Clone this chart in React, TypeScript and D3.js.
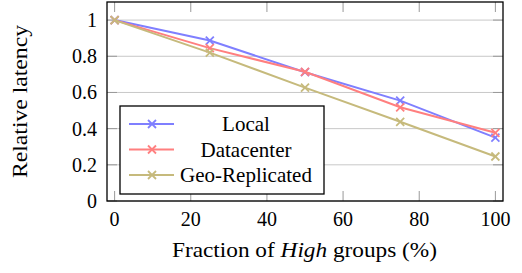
import React from 'react';
import * as d3 from 'd3';

const fractions = [0, 25, 50, 75, 100];
const localValues = [1, 0.887, 0.712, 0.555, 0.35];
const datacenterValues = [1, 0.845, 0.714, 0.518, 0.377];
const geoValues = [1, 0.82, 0.627, 0.438, 0.246];
const xTicks = [0, 20, 40, 60, 80, 100];
const yTicks = [0, 0.2, 0.4, 0.6, 0.8, 1];

const series = [
  { name: 'Local', values: localValues, color: '#7f7fff' },
  { name: 'Datacenter', values: datacenterValues, color: '#ff7f7f' },
  { name: 'Geo-Replicated', values: geoValues, color: '#c6ba7c' },
];

const width = 522;
const height = 273;
const margin = { top: 2, right: 19, bottom: 72, left: 107 };
const font = 'Liberation Serif, DejaVu Serif, serif';

const App: React.FC = () => {
  const x = d3.scaleLinear().domain([-2, 102]).range([margin.left, width - margin.right]);
  const y = d3.scaleLinear().domain([0, 1.1]).range([height - margin.bottom, margin.top]);
  const line = d3
    .line<number>()
    .x((_, i) => x(fractions[i]))
    .y((d) => y(d));

  const tick = 10;
  const left = x.range()[0];
  const right = x.range()[1];
  const top = y.range()[1];
  const bottom = y.range()[0];

  const cross = (cx: number, cy: number, color: string, key: string) => (
    <g key={key} stroke={color} strokeWidth={1.8}>
      <line x1={cx - 4} y1={cy - 4} x2={cx + 4} y2={cy + 4} />
      <line x1={cx - 4} y1={cy + 4} x2={cx + 4} y2={cy - 4} />
    </g>
  );

  const legend = { x: 120, y: 106, w: 204, h: 88 };

  return (
    <svg width={width} height={height} style={{ position: 'absolute', left: 0, top: 0 }} fontFamily={font}>
      <rect width={width} height={height} fill="#fff" />
      {/* grid */}
      {yTicks.map((t) => (
        <line key={`g${t}`} x1={left} x2={right} y1={y(t)} y2={y(t)} stroke="#c8c8c8" strokeWidth={1} />
      ))}
      {/* ticks */}
      {xTicks.map((t) => (
        <g key={`xt${t}`} stroke="#999" strokeWidth={1}>
          <line x1={x(t)} x2={x(t)} y1={bottom} y2={bottom - tick} />
          <line x1={x(t)} x2={x(t)} y1={top} y2={top + tick} />
        </g>
      ))}
      {yTicks.map((t) => (
        <g key={`yt${t}`} stroke="#999" strokeWidth={1}>
          <line x1={left} x2={left + tick} y1={y(t)} y2={y(t)} />
          <line x1={right} x2={right - tick} y1={y(t)} y2={y(t)} />
        </g>
      ))}
      {/* series */}
      {series.map((s) => (
        <g key={s.name}>
          <path d={line(s.values) || ''} fill="none" stroke={s.color} strokeWidth={2} />
          {s.values.map((v, i) => cross(x(fractions[i]), y(v), s.color, `${s.name}${i}`))}
        </g>
      ))}
      {/* frame */}
      <rect x={left} y={top} width={right - left} height={bottom - top} fill="none" stroke="#000" strokeWidth={1.3} />
      {/* tick labels */}
      {xTicks.map((t) => (
        <text key={`xl${t}`} x={x(t)} y={226} textAnchor="middle" fontSize={20} fontFamily={font}>
          {t}
        </text>
      ))}
      {yTicks.map((t) => (
        <text key={`yl${t}`} x={97} y={y(t) + 7} textAnchor="end" fontSize={20} fontFamily={font}>
          {t === 0 || t === 1 ? t : t.toFixed(1)}
        </text>
      ))}
      {/* legend */}
      <rect x={legend.x} y={legend.y} width={legend.w} height={legend.h} fill="#fff" stroke="#000" strokeWidth={1.3} />
      {series.map((s, i) => {
        const cy = 124 + i * 25.5;
        return (
          <g key={`lg${s.name}`}>
            <line x1={129} x2={174} y1={cy} y2={cy} stroke={s.color} strokeWidth={2} />
            {cross(152, cy, s.color, `lc${i}`)}
            <text x={246} y={cy + 7} textAnchor="middle" fontSize={21} fontFamily={font}>
              {s.name}
            </text>
          </g>
        );
      })}
      {/* axis labels */}
      <text
        x={304.5}
        y={257}
        textAnchor="middle"
        fontSize={21}
        fontFamily={font}
        textLength={265}
        lengthAdjust="spacingAndGlyphs"
      >
        Fraction of <tspan fontStyle="italic">High</tspan> groups (%)
      </text>
      <text
        transform={`translate(27,101.5) rotate(-90)`}
        textAnchor="middle"
        fontSize={21}
        fontFamily={font}
        textLength={153}
        lengthAdjust="spacingAndGlyphs"
      >
        Relative latency
      </text>
    </svg>
  );
};

export default App;
